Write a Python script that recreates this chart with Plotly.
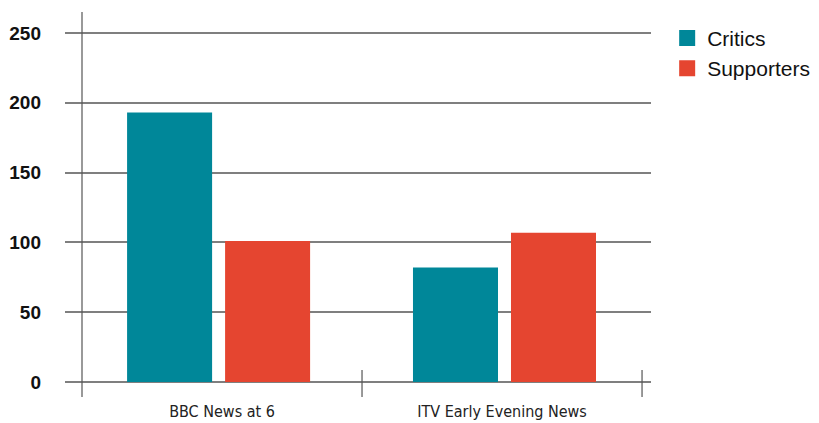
import plotly.graph_objects as go

categories = ["BBC News at 6", "ITV Early Evening News"]
critics = [193, 82]
supporters = [101, 107]
y_ticks = [0, 50, 100, 150, 200, 250]
series_names = ["Critics", "Supporters"]

TEAL = "#008799"
RED = "#E54530"
BAR_W = 0.3036

fig = go.Figure()
fig.add_bar(x=categories, y=critics, name=series_names[0], showlegend=False,
            width=BAR_W, offset=[-0.339, -0.318],
            marker=dict(color=TEAL, line=dict(width=0)))
fig.add_bar(x=categories, y=supporters, name=series_names[1], showlegend=False,
            width=BAR_W, offset=[0.011, 0.032],
            marker=dict(color=RED, line=dict(width=0)))
# legend entries with larger square swatches
for nm, col in zip(series_names, [TEAL, RED]):
    fig.add_scatter(x=[None], y=[None], mode="markers", name=nm,
                    marker=dict(symbol="square", size=17, color=col))

ymin, ymax = -10.7, 265
fig.update_layout(
    width=811, height=415,
    margin=dict(l=57, r=168, t=4, b=26, autoexpand=False),
    plot_bgcolor="white", paper_bgcolor="white",
    barmode="overlay",
    showlegend=True,
    legend=dict(x=1.0276, y=0.985, xanchor="left", yanchor="top",
                font=dict(family="Liberation Sans, Arial, sans-serif", size=21, color="#111"),
                itemwidth=30, tracegroupgap=0, bgcolor="rgba(0,0,0,0)"),
    xaxis=dict(range=[-0.5607, 1.532], showgrid=False, zeroline=False, showline=False,
               ticks="", ticklabelstandoff=3,
               tickfont=dict(family="Liberation Sans Narrow, DejaVu Sans Condensed, Roboto, sans-serif",
                             size=16, color="#222"),
               fixedrange=True),
    yaxis=dict(range=[ymin, ymax], tickvals=y_ticks, ticktext=[str(v) for v in y_ticks],
               showgrid=True, gridcolor="#7f7f7f", gridwidth=1.5, zeroline=False, showline=False,
               ticks="", ticklabelstandoff=23,
               tickfont=dict(family="Liberation Sans, Arial, sans-serif", size=19, color="#111", weight="bold")),
    font=dict(family="Liberation Sans, Arial, sans-serif"),
)

# y axis line
fig.add_shape(type="line", xref="x", yref="paper", x0=-0.5, x1=-0.5, y0=0, y1=1,
              line=dict(color="#555", width=1.2))
# category divider ticks
for xv in [0.5, 1.5]:
    fig.add_shape(type="line", xref="x", yref="y", x0=xv, x1=xv, y0=ymin, y1=8.6,
                  line=dict(color="#555", width=1.2))

fig.write_html("out.html")
